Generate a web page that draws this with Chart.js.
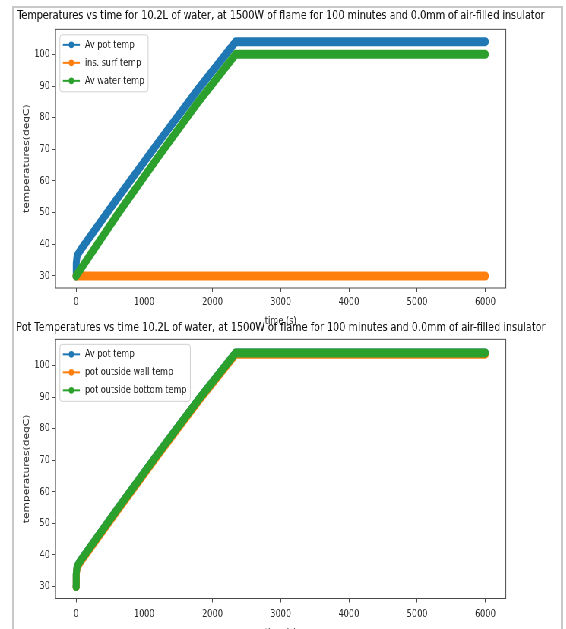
<!DOCTYPE html>
<html>
<head>
<meta charset="utf-8">
<script src="https://cdn.jsdelivr.net/npm/chart.js@4.4.1/dist/chart.umd.min.js"></script>
<style>
  html, body { margin: 0; padding: 0; background: #fff; overflow: hidden; }
  body { width: 566px; height: 629px; position: relative; }
  .sheet { position: absolute; left: 12px; top: 6px; width: 551px; height: 640px; border: 2px solid #c8c8c8; border-bottom: none; box-sizing: border-box; }
  .squeeze { position: absolute; left: 0; top: 0; width: 745px; height: 660px; transform: scaleX(0.76); transform-origin: 0 0; }
  .squeeze canvas { position: absolute; left: -2.8px; }
  #tempChart { top: 0; }
  #potChart { top: 318px; }
</style>
</head>
<body>
<div class="sheet"></div>
<div class="squeeze">
  <canvas id="tempChart" width="745" height="332"></canvas>
  <canvas id="potChart" width="745" height="330"></canvas>
</div>
<script>
// time (s) and temperatures (degC)
const potTime = [0, 3, 15, 60, 600, 1200, 1800, 2340, 6000];
const avPotTemp = [30, 34, 36.3, 38, 54.3, 72, 89.3, 104, 104];
const surfTime = [0, 6000];
const insSurfTemp = [30, 30];
const waterTime = [0, 600, 1200, 1800, 2340, 6000];
const avWaterTemp = [30, 49.2, 67.5, 85.2, 100, 100];
const wallTemp = [30, 33.6, 35.9, 37.6, 53.9, 71.6, 88.9, 103.6, 103.6];
const bottomTemp = [30, 34, 36.3, 38, 54.3, 72, 89.3, 104, 104];

const xTickValues = [0, 1000, 2000, 3000, 4000, 5000, 6000];
const yTickValues = [30, 40, 50, 60, 70, 80, 90, 100];

const blue = '#1f77b4', orange = '#ff7f0e', green = '#2ca02c';
const axisColor = '#4a4a4a';
const smallFont = 10.7;

Chart.defaults.font.family = 'DejaVu Sans';
Chart.defaults.font.size = smallFont;
Chart.defaults.color = '#2a2a2a';

// matplotlib-style box round the axes
const axesBox = {
  id: 'axesBox',
  afterDraw(chart) {
    const { ctx, chartArea: a } = chart;
    ctx.save();
    ctx.strokeStyle = axisColor;
    ctx.lineWidth = 1;
    ctx.strokeRect(a.left, a.top, a.right - a.left, a.bottom - a.top);
    ctx.restore();
  }
};

// legend in the upper left corner, line + dot like matplotlib
const mplLegend = {
  id: 'mplLegend',
  afterDatasetsDraw(chart, args, opts) {
    const { ctx, chartArea: a } = chart;
    const sets = chart.data.datasets;
    ctx.save();
    ctx.font = smallFont + 'px "DejaVu Sans"';
    const textX = a.left + 38.6;
    const rows = sets.map((d, i) => a.top + opts.firstRow + i * 18);
    const textW = Math.max(...sets.map(d => ctx.measureText(d.label).width));
    const l = a.left + 5.7, t = rows[0] - 10;
    const r = textX + textW + 5, b = rows[rows.length - 1] + 11;
    ctx.fillStyle = 'rgba(255,255,255,0.8)';
    ctx.strokeStyle = '#d0d0d0';
    ctx.lineWidth = 1;
    ctx.beginPath();
    ctx.roundRect(l, t, r - l, b - t, 3);
    ctx.fill();
    ctx.stroke();
    sets.forEach((d, i) => {
      const y = rows[i];
      ctx.strokeStyle = d.borderColor;
      ctx.lineWidth = 2;
      ctx.beginPath();
      ctx.moveTo(a.left + 9.6, y);
      ctx.lineTo(a.left + 32, y);
      ctx.stroke();
      ctx.fillStyle = d.borderColor;
      ctx.beginPath();
      ctx.arc(a.left + 20.8, y, 3.4, 0, Math.PI * 2);
      ctx.fill();
      ctx.fillStyle = '#222';
      ctx.textBaseline = 'middle';
      ctx.fillText(d.label, textX, y);
    });
    ctx.restore();
  }
};

function buildChart(id, title, series, geo) {
  return new Chart(document.getElementById(id), {
    type: 'scatter',
    data: {
      datasets: series.map((s, i) => ({
        label: s.label,
        data: s.x.map((t, k) => ({ x: t, y: s.y[k] })),
        showLine: true,
        borderColor: s.color,
        backgroundColor: s.color,
        borderWidth: 9,
        borderCapStyle: 'round',
        borderJoinStyle: 'round',
        pointRadius: 0,
        pointHoverRadius: 0,
        order: series.length - i
      }))
    },
    options: {
      responsive: false,
      animation: false,
      devicePixelRatio: 1,
      events: [],
      layout: { padding: 0 },
      scales: {
        x: {
          type: 'linear', min: -300, max: 6300,
          afterBuildTicks: s => { s.ticks = xTickValues.map(v => ({ value: v })); },
          ticks: { padding: geo.xTickPad, callback: v => String(v) },
          grid: { drawOnChartArea: false, tickLength: 4, color: axisColor, tickColor: axisColor },
          border: { display: false },
          title: { display: true, text: 'time (s)', padding: { top: 0, bottom: geo.xTitlePad } },
          afterFit: s => { s.height = geo.xAxisHeight; }
        },
        y: {
          min: geo.yMin, max: geo.yMax,
          afterBuildTicks: s => { s.ticks = yTickValues.map(v => ({ value: v })); },
          ticks: { padding: 2.6, callback: v => String(v) },
          grid: { drawOnChartArea: false, tickLength: 4.9, color: axisColor, tickColor: axisColor },
          border: { display: false },
          title: { display: true, text: 'temperatures(degC)', padding: { top: 31.9, bottom: 0 } },
          afterFit: s => { s.width = 76.1; }
        },
        yRight: {
          position: 'right', display: true,
          ticks: { display: false }, grid: { display: false }, border: { display: false },
          afterFit: s => { s.width = 76.4; }
        }
      },
      plugins: {
        title: {
          display: true, text: title, color: '#111',
          font: { size: 12.7, weight: 'normal' },
          padding: { top: geo.titleTop, bottom: geo.titleBottom }
        },
        legend: { display: false },
        tooltip: { enabled: false },
        mplLegend: { firstRow: geo.legendRow }
      }
    },
    plugins: [axesBox, mplLegend]
  });
}

buildChart('tempChart',
  'Temperatures vs time for 10.2L of water, at 1500W of flame for 100 minutes and 0.0mm of air-filled insulator',
  [
    { label: 'Av pot temp', x: potTime, y: avPotTemp, color: blue },
    { label: 'ins. surf temp', x: surfTime, y: insSurfTemp, color: orange },
    { label: 'Av water temp', x: waterTime, y: avWaterTemp, color: green }
  ],
  { titleTop: 8.4, titleBottom: 5.7, xAxisHeight: 44, xTickPad: 3.6, xTitlePad: 4.1, yMin: 26.2, yMax: 107.9, legendRow: 15.5 });

buildChart('potChart',
  'Pot Temperatures vs time 10.2L of water, at 1500W of flame for 100 minutes and 0.0mm of air-filled insulator',
  [
    { label: 'Av pot temp', x: potTime, y: avPotTemp, color: blue },
    { label: 'pot outside wall temp', x: potTime, y: wallTemp, color: orange },
    { label: 'pot outside bottom temp', x: potTime, y: bottomTemp, color: green }
  ],
  { titleTop: 2.4, titleBottom: 3.7, xAxisHeight: 49.5, xTickPad: 5.5, xTitlePad: 8.6, yMin: 26.2, yMax: 108.3, legendRow: 15 });
</script>
</body>
</html>
